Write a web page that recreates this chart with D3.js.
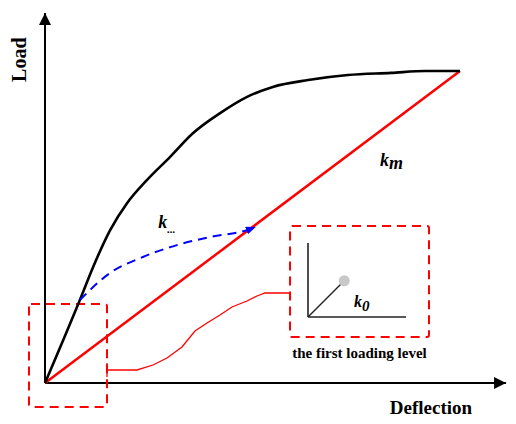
<!DOCTYPE html>
<html>
<head>
<meta charset="utf-8">
<style>
    body { margin: 0; background: #fff; }
    text { font-family: "Liberation Serif", "Times New Roman", serif; font-weight: bold; }
</style>
<script src="https://d3js.org/d3.v7.min.js"></script>
</head>
<body>
<div id="my_dataviz"></div>
<script>

// load-deflection curve (deflection, load), in % of final point
var curveDefl = [0, 8.4, 11.6, 15.7, 19.8, 24.6, 30.1, 35.7, 42.2, 48.7, 54.9, 63.4, 73.0, 83.4, 91.6, 100];
var curveLoad = [0, 26.6, 37.2, 49.0, 57.7, 65.1, 72.4, 80.1, 86.5, 91.7, 94.9, 97.1, 98.7, 99.4, 100, 100];

// secant stiffness k_m: origin to last point
var secantDefl = [0, 100];
var secantLoad = [0, 100];

// dashed k... arrow from the curve onto the secant
var arrowDefl = [8.4, 15.7, 23.6, 31.8, 39.8, 48.7, 50.8];
var arrowLoad = [26.6, 35.3, 40.4, 44.2, 46.8, 49.0, 50.0];

// thin red leader from the small box to the inset
var leaderDefl = [14.94, 22.17, 26.02, 29.40, 33.01, 36.14, 39.04, 42.17, 45.06, 48.67, 51.08, 53.01, 59.04];
var leaderLoad = [4.17, 4.17, 5.77, 8.01, 11.54, 16.67, 19.23, 21.79, 24.36, 26.28, 27.88, 28.85, 28.85];

// dashed boxes [x0, x1, y0, y1] in data units
var smallBox = [-3.86, 14.94, -7.69, 25.32];
var bigBox = [59.04, 92.53, 14.74, 50.32];

// axis extents
var axisDefl = [0, 111.1];
var axisLoad = [0, 118.6];

// inset (first loading level), unit coordinates
var insetK0 = [[0, 0], [0.37, 0.49]];

var width = 516, height = 424;

var svg = d3.select("#my_dataviz").append("svg")
    .attr("width", width)
    .attr("height", height);

var x = d3.scaleLinear().domain([0, 100]).range([45, 460]);
var y = d3.scaleLinear().domain([0, 100]).range([383, 71]);

// inset scales
var ix = d3.scaleLinear().domain([0, 1]).range([308, 406]);
var iy = d3.scaleLinear().domain([0, 1]).range([317, 243]);

function zipXY(a, b) {
    return a.map(function(d, i) { return [d, b[i]]; });
}

var line = d3.line()
    .x(function(d) { return x(d[0]); })
    .y(function(d) { return y(d[1]); });

var smooth = d3.line()
    .x(function(d) { return x(d[0]); })
    .y(function(d) { return y(d[1]); })
    .curve(d3.curveMonotoneX);

// arrow markers
var defs = svg.append("defs");
defs.append("marker")
    .attr("id", "axisHead")
    .attr("viewBox", "0 0 12 12")
    .attr("refX", 12).attr("refY", 6)
    .attr("markerWidth", 12).attr("markerHeight", 12)
    .attr("markerUnits", "userSpaceOnUse")
    .attr("orient", "auto")
    .append("path").attr("d", "M0,0L12,6L0,12Z").attr("fill", "black");
defs.append("marker")
    .attr("id", "blueHead")
    .attr("viewBox", "0 0 10 8")
    .attr("refX", 10).attr("refY", 4)
    .attr("markerWidth", 10).attr("markerHeight", 8)
    .attr("markerUnits", "userSpaceOnUse")
    .attr("orient", "auto")
    .append("path").attr("d", "M0,0L10,4L0,8Z").attr("fill", "blue");

// axes
svg.append("line")
    .attr("x1", x(axisDefl[0])).attr("y1", y(0))
    .attr("x2", x(axisDefl[1])).attr("y2", y(0))
    .attr("stroke", "black").attr("stroke-width", 2)
    .attr("marker-end", "url(#axisHead)");
svg.append("line")
    .attr("x1", x(0)).attr("y1", y(axisLoad[0]))
    .attr("x2", x(0)).attr("y2", y(axisLoad[1]))
    .attr("stroke", "black").attr("stroke-width", 2)
    .attr("marker-end", "url(#axisHead)");

// axis labels (Load reads bottom-up, starting just above the curve top)
svg.append("text")
    .attr("transform", "translate(26," + y(96.5) + ")rotate(-90)")
    .attr("text-anchor", "start")
    .style("font-size", "20px")
    .text("Load");
svg.append("text")
    .attr("x", x(93))
    .attr("y", 414)
    .attr("text-anchor", "middle")
    .style("font-size", "19px")
    .text("Deflection");

// dashed boxes
[smallBox, bigBox].forEach(function(b) {
    svg.append("rect")
        .attr("x", x(b[0])).attr("y", y(b[3]))
        .attr("width", x(b[1]) - x(b[0]))
        .attr("height", y(b[2]) - y(b[3]))
        .attr("rx", 2)
        .attr("fill", "none")
        .attr("stroke", "red")
        .attr("stroke-width", 2)
        .attr("stroke-dasharray", "9,6");
});

// leader line with its end tick
svg.append("path")
    .datum(zipXY(leaderDefl, leaderLoad))
    .attr("d", line)
    .attr("fill", "none")
    .attr("stroke", "red")
    .attr("stroke-width", 1.3);
svg.append("line")
    .attr("x1", x(leaderDefl[0])).attr("x2", x(leaderDefl[0]))
    .attr("y1", y(leaderLoad[0]) - 7).attr("y2", y(leaderLoad[0]) + 7)
    .attr("stroke", "red").attr("stroke-width", 1.3);

// secant k_m
svg.append("path")
    .datum(zipXY(secantDefl, secantLoad))
    .attr("d", line)
    .attr("fill", "none")
    .attr("stroke", "red")
    .attr("stroke-width", 2.5);

// load-deflection curve
svg.append("path")
    .datum(zipXY(curveDefl, curveLoad))
    .attr("d", smooth)
    .attr("fill", "none")
    .attr("stroke", "black")
    .attr("stroke-width", 2.6);

// dashed arrow
svg.append("path")
    .datum(zipXY(arrowDefl, arrowLoad))
    .attr("d", smooth)
    .attr("fill", "none")
    .attr("stroke", "blue")
    .attr("stroke-width", 2)
    .attr("stroke-dasharray", "9,6")
    .attr("marker-end", "url(#blueHead)");

// stiffness labels
var km = svg.append("text")
    .attr("x", x(80.7)).attr("y", y(69.6))
    .style("font-size", "18px").style("font-style", "italic");
km.append("tspan").text("k");
km.append("tspan").attr("dy", 3).text("m");

var kd = svg.append("text")
    .attr("x", x(27.3)).attr("y", y(49.7))
    .style("font-size", "18px").style("font-style", "italic");
kd.append("tspan").text("k");
kd.append("tspan").attr("dy", 5).style("font-size", "11px").text("...");

// inset: first loading level
svg.append("line")
    .attr("x1", ix(0)).attr("y1", iy(0)).attr("x2", ix(0)).attr("y2", iy(1))
    .attr("stroke", "#222").attr("stroke-width", 1.6);
svg.append("line")
    .attr("x1", ix(0)).attr("y1", iy(0)).attr("x2", ix(1)).attr("y2", iy(0))
    .attr("stroke", "#222").attr("stroke-width", 1.6);
svg.append("line")
    .attr("x1", ix(insetK0[0][0])).attr("y1", iy(insetK0[0][1]))
    .attr("x2", ix(insetK0[1][0])).attr("y2", iy(insetK0[1][1]))
    .attr("stroke", "#222").attr("stroke-width", 1.4);
svg.append("circle")
    .attr("cx", ix(insetK0[1][0])).attr("cy", iy(insetK0[1][1]))
    .attr("r", 5.5)
    .attr("fill", "#c8c8c8");

var k0 = svg.append("text")
    .attr("x", ix(0.47)).attr("y", iy(0.14))
    .style("font-size", "16px").style("font-style", "italic");
k0.append("tspan").text("k");
k0.append("tspan").attr("dy", 4).style("font-size", "15px").text("0");

svg.append("text")
    .attr("x", (x(bigBox[0]) + x(bigBox[1])) / 2)
    .attr("y", 358)
    .attr("text-anchor", "middle")
    .style("font-size", "15px")
    .text("the first loading level");

</script>
</body>
</html>
